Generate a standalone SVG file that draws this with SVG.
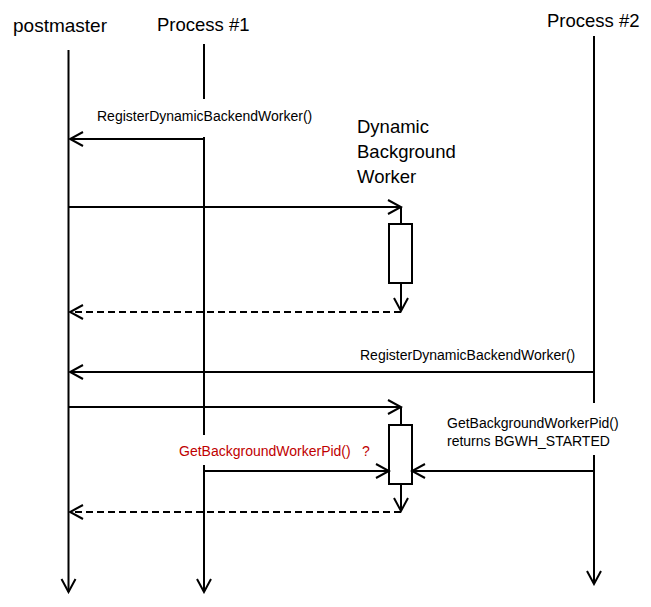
<svg xmlns="http://www.w3.org/2000/svg" width="651" height="607" viewBox="0 0 651 607">
  <style>
    .life { stroke: #000; stroke-width: 2; fill: none; }
    .msg { stroke: #000; stroke-width: 2; fill: none; }
    .dash { stroke-dasharray: 7 4; }
    .act { stroke: #000; stroke-width: 2; fill: #fff; }
    .mask { fill: #fff; stroke: none; }
    .head { font-family: "Liberation Sans", Arial, sans-serif; font-size: 18.5px; fill: #000; }
    .lbl { font-family: "Liberation Sans", Arial, sans-serif; font-size: 14px; fill: #000; }
    .red { fill: #C00000; }
  </style>
  <defs>
    <marker id="arr" markerUnits="userSpaceOnUse" markerWidth="18" markerHeight="20" viewBox="-16 -10 18 20" refX="0" refY="0" orient="auto">
      <path d="M-13,-7 L0,0 L-13,7" fill="none" stroke="#000" stroke-width="2" stroke-dasharray="none"/>
    </marker>
  </defs>
  <rect width="651" height="607" fill="#fff"/>

  <g id="postmaster">
    <text class="head" x="13" y="32" style="font-size:19px">postmaster</text>
    <line class="life" x1="68.5" y1="50" x2="68.5" y2="592" marker-end="url(#arr)"/>
  </g>
  <g id="process1">
    <text class="head" x="157" y="31">Process #1</text>
    <line class="life" x1="204" y1="44" x2="204" y2="592" marker-end="url(#arr)"/>
  </g>
  <g id="process2">
    <text class="head" x="547" y="27">Process #2</text>
    <line class="life" x1="594" y1="36" x2="594" y2="584" marker-end="url(#arr)"/>
  </g>

  <g id="labels">
    <rect class="mask" x="94" y="99" width="224" height="38"/>
    <text class="lbl" x="97" y="121">RegisterDynamicBackendWorker()</text>
    <text class="lbl" x="360" y="360">RegisterDynamicBackendWorker()</text>
    <rect class="mask" x="176" y="435" width="196" height="30"/>
    <text class="lbl red" x="179" y="456">GetBackgroundWorkerPid()<tspan x="362">?</tspan></text>
    <rect class="mask" x="444" y="403" width="196" height="52"/>
    <text class="lbl" x="447" y="428">GetBackgroundWorkerPid()</text>
    <text class="lbl" x="447" y="446">returns BGWH_STARTED</text>
  </g>

  <g id="dynamic-bgworker">
    <text class="head" x="357" y="133">Dynamic</text>
    <text class="head" x="357" y="158">Background</text>
    <text class="head" x="357" y="183">Worker</text>
    <rect class="act" x="389" y="224" width="23" height="59"/>
    <rect class="act" x="389" y="425" width="23" height="59"/>
  </g>

  <g id="connectors">
    <line class="msg" x1="204" y1="139" x2="70" y2="139" marker-end="url(#arr)"/>
    <line class="msg" x1="68" y1="207" x2="401" y2="207" marker-end="url(#arr)"/>
    <line class="msg" x1="401" y1="207" x2="401" y2="224"/>
    <line class="msg" x1="401" y1="283" x2="401" y2="311" marker-end="url(#arr)"/>
    <line class="msg dash" x1="401" y1="312" x2="70" y2="312" marker-end="url(#arr)"/>
    <line class="msg" x1="594" y1="372" x2="70" y2="372" marker-end="url(#arr)"/>
    <line class="msg" x1="68" y1="407" x2="401" y2="407" marker-end="url(#arr)"/>
    <line class="msg" x1="401" y1="407" x2="401" y2="425"/>
    <line class="msg" x1="401" y1="484" x2="401" y2="511" marker-end="url(#arr)"/>
    <line class="msg" x1="204" y1="471" x2="389" y2="471" marker-end="url(#arr)"/>
    <line class="msg" x1="594" y1="471" x2="412" y2="471" marker-end="url(#arr)"/>
    <line class="msg dash" x1="401" y1="512" x2="70" y2="512" marker-end="url(#arr)"/>
  </g>
</svg>
